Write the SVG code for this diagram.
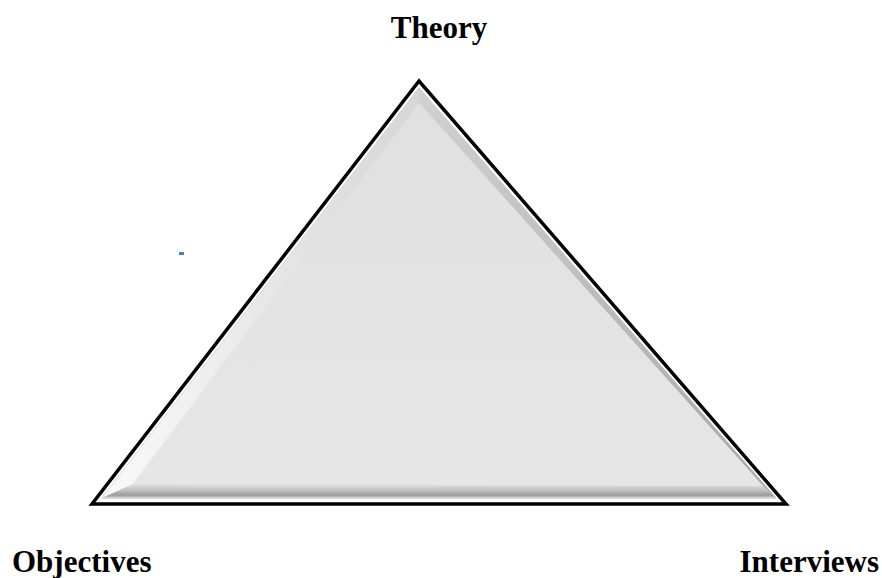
<svg xmlns="http://www.w3.org/2000/svg" width="882" height="578" viewBox="0 0 882 578">
<style>
.lbl{font-family:"Liberation Serif","Times New Roman",serif;font-weight:bold;font-size:31px;fill:#000}
</style>
<defs>
<linearGradient id="face" x1="0" y1="0" x2="0" y2="1">
<stop offset="0" stop-color="#e0e0e0"/><stop offset="1" stop-color="#e6e6e6"/>
</linearGradient>
<linearGradient id="bot" x1="0" y1="0" x2="0" y2="1">
<stop offset="0" stop-color="#e2e2e2"/><stop offset="0.5" stop-color="#bdbdbd"/><stop offset="0.8" stop-color="#9a9a9a"/><stop offset="1" stop-color="#d8d8d8"/>
</linearGradient>
<linearGradient id="lft" x1="0" y1="0" x2="1" y2="0">
<stop offset="0" stop-color="#fafafa"/><stop offset="1" stop-color="#d6d6d6"/>
</linearGradient>
<linearGradient id="rgt" x1="1" y1="0" x2="0" y2="0">
<stop offset="0" stop-color="#a8a8a8"/><stop offset="1" stop-color="#d0d0d0"/>
</linearGradient>
</defs>
<rect width="882" height="578" fill="#fff"/>
<g id="triangle">
<polygon points="419,81 92,504 786,504" fill="#fff" stroke="#000" stroke-width="3.5" stroke-linejoin="miter"/>
<polygon points="419,88 102,498 776,498" fill="#e2e2e2" stroke="#c4c4c4" stroke-width="1"/>
<polygon points="419,88 102,498 133,484 419,103" fill="url(#lft)"/>
<polygon points="419,88 776,498 763,486 419,103" fill="url(#rgt)"/>
<polygon points="102,498 776,498 763,486 133,484" fill="url(#bot)"/>
<polygon points="419,103 133,484 763,486" fill="url(#face)"/>
</g>
<g id="connectors"></g>
<g id="dot"><rect x="179" y="252" width="5" height="3" fill="#4a7ec4"/></g>
<g id="labels">
<text class="lbl" x="439" y="38" text-anchor="middle">Theory</text>
<text class="lbl" x="12" y="572">Objectives</text>
<text class="lbl" x="879" y="572" text-anchor="end">Interviews</text>
</g>
</svg>
